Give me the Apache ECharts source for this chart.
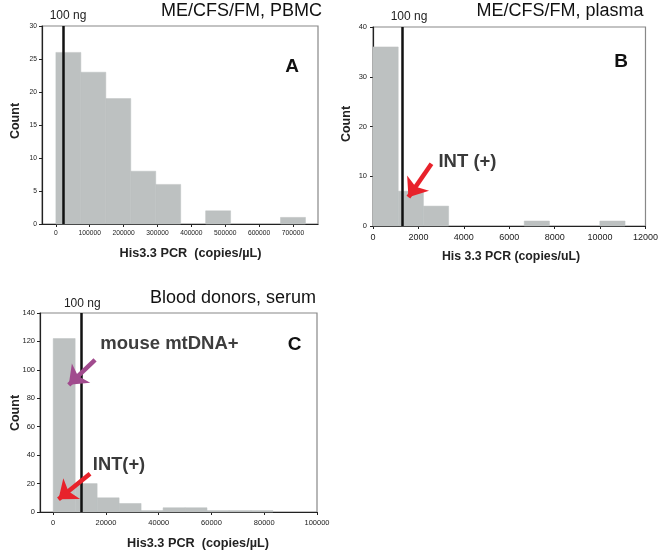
<!DOCTYPE html>
<html>
<head>
<meta charset="utf-8">
<script src="https://cdn.jsdelivr.net/npm/echarts@6/dist/echarts.min.js"></script>
<style>
html,body{margin:0;padding:0;background:#fff;}
#chart{width:661px;height:552px;}
</style>
</head>
<body>
<div id="chart"></div>
<script>
// ---- Panel A: ME/CFS/FM, PBMC ----
const aCounts = [26, 23, 19, 8, 6, 0, 2, 0, 0, 1];
const aBinStart = 0;
const aBinWidth = 73700;
const a100ng = 22800;
const aXTicks = [0, 100000, 200000, 300000, 400000, 500000, 600000, 700000];
const aYTicks = [0, 5, 10, 15, 20, 25, 30];

// ---- Panel B: ME/CFS/FM, plasma ----
const bCounts = [36, 7, 4, 0, 0, 0, 1, 0, 0, 1];
const bBinStart = 0;
const bBinWidth = 1110;
const b100ng = 1310;
const bXTicks = [0, 2000, 4000, 6000, 8000, 10000, 12000];
const bYTicks = [0, 10, 20, 30, 40];

// ---- Panel C: Blood donors, serum ----
const cCounts = [122, 20, 10, 6, 1, 3, 3, 1, 1, 1];
const cBinStart = 0;
const cBinWidth = 8330;
const c100ng = 10500;
const cXTicks = [0, 20000, 40000, 60000, 80000, 100000];
const cYTicks = [0, 20, 40, 60, 80, 100, 120, 140];

// annotation arrows (data coordinates: [x, y] start -> end)
const bArrowINT = [[2575, 12.5], [1560, 5.8]];
const cArrowMouse = [[15870, 107.1], [5900, 89.5]];
const cArrowINT = [[13970, 26.9], [2000, 9.0]];

const FONT = '"Liberation Sans", Arial, Helvetica, sans-serif';
const BAR_COLOR = '#bdc1c1';

function bins(counts, start, width) {
  const out = [];
  counts.forEach((c, i) => {
    if (c > 0) out.push([start + i * width, start + (i + 1) * width, c]);
  });
  return out;
}

function renderBar(params, api) {
  const x0 = api.value(0), x1 = api.value(1), y = api.value(2);
  const p0 = api.coord([x0, y]);
  const p1 = api.coord([x1, 0]);
  return {
    type: 'rect',
    shape: { x: p0[0], y: p0[1], width: p1[0] - p0[0], height: p1[1] - p0[1] },
    style: { fill: BAR_COLOR, stroke: BAR_COLOR, lineWidth: 0.5 }
  };
}

const plain = v => String(v);

function xAxisCfg(idx, min, max, ticks, fs, margin) {
  return {
    gridIndex: idx, type: 'value', min: min, max: max,
    axisLine: { show: true, onZero: false, lineStyle: { color: '#222', width: 1.2 } },
    axisTick: { show: true, inside: false, length: 3, customValues: ticks, lineStyle: { color: '#222' } },
    axisLabel: { customValues: ticks, formatter: plain, fontSize: fs, color: '#1a1a1a', margin: margin, fontFamily: FONT },
    splitLine: { show: false }
  };
}
function yAxisCfg(idx, max, interval, ticks, fs, margin) {
  return {
    gridIndex: idx, type: 'value', min: 0, max: max, interval: interval,
    axisLine: { show: true, onZero: false, lineStyle: { color: '#222', width: 1.2 } },
    axisTick: { show: true, inside: false, length: 3, lineStyle: { color: '#222' } },
    axisLabel: { formatter: plain, fontSize: fs, color: '#1a1a1a', margin: margin, fontFamily: FONT },
    splitLine: { show: false }
  };
}

function vline(idx, x) {
  return {
    type: 'line', xAxisIndex: idx, yAxisIndex: idx, data: [], z: 5,
    markLine: {
      silent: true, symbol: ['none', 'none'], label: { show: false },
      lineStyle: { color: '#111', width: 2.5, type: 'solid' },
      data: [{ xAxis: x }]
    }
  };
}
function arrow(idx, pts, color) {
  return {
    type: 'line', xAxisIndex: idx, yAxisIndex: idx, data: [], z: 6,
    markLine: {
      silent: true, symbol: ['none', 'arrow'], symbolSize: [20, 17], label: { show: false },
      lineStyle: { color: color, width: 4.5, type: 'solid', opacity: 1 },
      data: [[{ coord: pts[0] }, { coord: pts[1] }]]
    }
  };
}

function txt(text, x, y, size, weight, align, color, rot) {
  return {
    type: 'text', x: x, y: y, rotation: rot || 0, z: 100,
    style: {
      text: text, x: 0, y: 0, fill: color || '#111',
      font: (weight || 'normal') + ' ' + size + 'px ' + FONT,
      align: align || 'center', verticalAlign: 'middle'
    }
  };
}

const grids = [
  { left: 42, top: 26, width: 276, height: 198 },
  { left: 373, top: 27, width: 275, height: 199 },
  { left: 40, top: 313, width: 277, height: 199 }
];
grids.forEach(g => { g.show = true; g.borderColor = '#888'; g.borderWidth = 1.2; g.backgroundColor = 'transparent'; });

const option = {
  animation: false,
  backgroundColor: '#fff',
  grid: grids,
  xAxis: [
    xAxisCfg(0, -41000, 774000, aXTicks, 6.7, 6),
    xAxisCfg(1, 0, 12000, bXTicks, 9, 7),
    xAxisCfg(2, -5000, 100000, cXTicks, 7.5, 7)
  ],
  yAxis: [
    yAxisCfg(0, 30, 5, aYTicks, 6.7, 5),
    yAxisCfg(1, 40, 10, bYTicks, 7.5, 6),
    yAxisCfg(2, 140, 20, cYTicks, 7.5, 5)
  ],
  series: [
    { type: 'custom', xAxisIndex: 0, yAxisIndex: 0, renderItem: renderBar, encode: { x: [0, 1], y: 2 }, data: bins(aCounts, aBinStart, aBinWidth), z: 2 },
    { type: 'custom', xAxisIndex: 1, yAxisIndex: 1, renderItem: renderBar, encode: { x: [0, 1], y: 2 }, data: bins(bCounts, bBinStart, bBinWidth), z: 2 },
    { type: 'custom', xAxisIndex: 2, yAxisIndex: 2, renderItem: renderBar, encode: { x: [0, 1], y: 2 }, data: bins(cCounts, cBinStart, cBinWidth), z: 2 },
    vline(0, a100ng),
    vline(1, b100ng),
    vline(2, c100ng),
    arrow(1, bArrowINT, '#e8222b'),
    arrow(2, cArrowMouse, '#a14b8e'),
    arrow(2, cArrowINT, '#e8222b')
  ],
  graphic: [
    // Panel A
    txt('ME/CFS/FM, PBMC', 322, 11, 18, 'normal', 'right', '#111'),
    txt('100 ng', 68, 16, 12, 'normal', 'center', '#222'),
    txt('A', 292, 67, 19, 'bold', 'center', '#111'),
    txt('Count', 16, 121, 12.5, 'bold', 'center', '#222', Math.PI / 2),
    txt('His3.3 PCR  (copies/µL)', 190.5, 253, 12.7, 'bold', 'center', '#222'),
    // Panel B
    txt('ME/CFS/FM, plasma', 643.5, 11.5, 18, 'normal', 'right', '#111'),
    txt('100 ng', 409, 17, 12, 'normal', 'center', '#222'),
    txt('B', 621, 62, 19, 'bold', 'center', '#111'),
    txt('Count', 347, 124, 12.5, 'bold', 'center', '#222', Math.PI / 2),
    txt('His 3.3 PCR (copies/uL)', 511, 256.5, 12.3, 'bold', 'center', '#222'),
    txt('INT (+)', 467.5, 162, 18.5, 'bold', 'center', '#3a3a3a'),
    // Panel C
    txt('Blood donors, serum', 316, 298, 18, 'normal', 'right', '#111'),
    txt('100 ng', 82.3, 304, 12, 'normal', 'center', '#222'),
    txt('C', 294.5, 345, 19, 'bold', 'center', '#111'),
    txt('Count', 16, 413, 12.5, 'bold', 'center', '#222', Math.PI / 2),
    txt('His3.3 PCR  (copies/µL)', 198, 543, 12.7, 'bold', 'center', '#222'),
    txt('mouse mtDNA+', 169.5, 343.5, 18.5, 'bold', 'center', '#3e3e3e'),
    txt('INT(+)', 119, 465, 18.3, 'bold', 'center', '#3a3a3a')
  ]
};

const chart = echarts.init(document.getElementById('chart'), null, { renderer: 'canvas' });
chart.setOption(option);
</script>
</body>
</html>
